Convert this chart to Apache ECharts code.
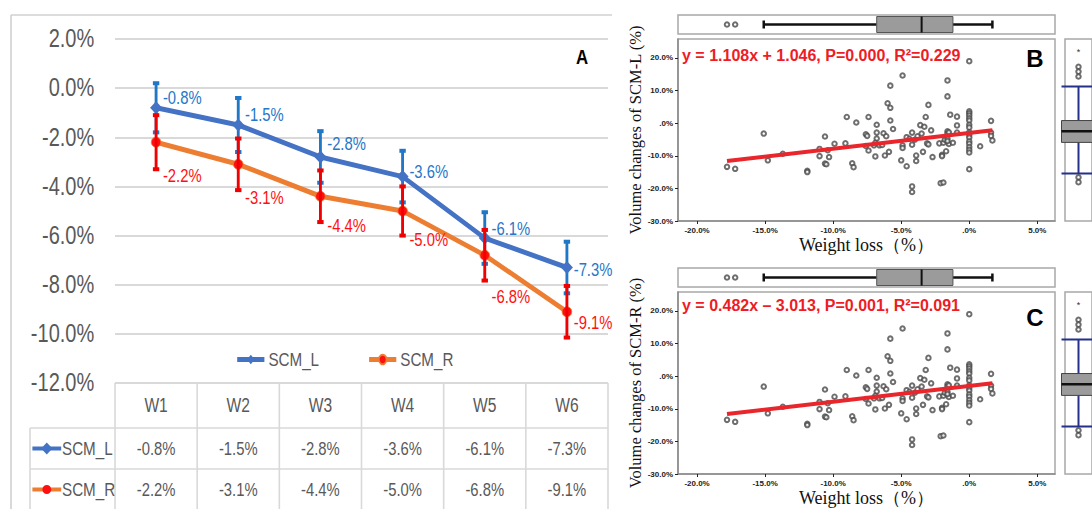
<!DOCTYPE html>
<html><head><meta charset="utf-8">
<script src="https://cdn.jsdelivr.net/npm/echarts@6/dist/echarts.min.js"></script>
<style>
html,body{margin:0;padding:0;background:#fff}
#wrap{position:relative;width:1092px;height:509px;overflow:hidden}
#a{position:absolute;left:0;top:0;width:800px;height:509px;transform:scaleX(0.8);transform-origin:0 0}
#bc{position:absolute;left:0;top:0;width:1092px;height:509px}
</style>
</head><body><div id="wrap"><div id="a"></div><div id="bc"></div></div>
<script>
// ---------------- DATA ----------------
const weeks = ['W1','W2','W3','W4','W5','W6'];
const scmL = [-0.8,-1.5,-2.8,-3.6,-6.1,-7.3];
const scmR = [-2.2,-3.1,-4.4,-5.0,-6.8,-9.1];
const errL = [1.0,1.1,1.05,1.05,1.05,1.05];
const errR = [1.1,1.05,1.05,1.0,1.03,1.05];
const seriesNames = ['SCM_L','SCM_R'];

const scatterPoints = [
 [-17.8,-13.4],[-17.2,-14.0],[-15.1,-3.2],[-14.8,-11.4],[-13.7,-9.4],
 [-11.9,-14.6],[-11.9,-15.0],[-11.0,-7.9],[-11.0,-10.1],[-10.6,-4.1],[-10.6,-12.4],[-10.5,-12.6],
 [-10.4,-8.3],[-10.3,-10.4],[-9.9,-6.3],[-9.1,-6.2],[-9.0,1.9],[-8.6,-12.3],[-8.5,-13.5],[-8.3,0.2],
 [-7.6,-3.4],[-7.5,-3.9],[-7.4,1.9],[-7.6,-7.0],[-7.4,-8.4],[-6.9,-10.2],[-6.8,-0.5],[-6.8,-2.9],
 [-6.8,-4.7],[-6.9,-6.0],[-7.0,-6.8],[-6.6,-6.8],[-6.3,-3.1],[-6.4,-6.7],[-6.1,-4.0],[-6.2,-9.9],
 [-6.0,6.1],[-5.8,4.7],[-5.8,11.5],[-5.8,0.8],[-5.9,-8.8],[-5.6,-1.8],
 [-5.0,-11.4],[-4.9,14.6],[-4.9,-6.8],[-4.9,-7.6],[-4.6,-4.3],[-4.6,-13.2],[-4.2,-2.9],[-4.2,-6.6],
 [-4.2,-19.4],[-4.2,-21.1],[-4.4,-4.8],[-4.0,-5.1],[-3.9,-9.9],[-3.9,-11.6],[-3.8,-4.0],[-3.6,-0.6],
 [-3.5,-3.2],[-3.4,-8.8],[-3.3,-1.1],[-3.2,1.9],[-3.1,-6.2],[-3.0,-6.5],[-3.0,5.6],[-2.8,-2.2],[-2.7,-10.4],
 [-2.2,-6.2],[-2.1,-18.4],[-1.9,-18.2],[-2.0,-9.7],[-2.0,-10.1],[-1.9,-6.0],[-1.8,-5.1],[-1.6,13.1],
 [-1.6,8.2],[-1.6,-2.5],[-1.6,-3.2],[-1.6,-4.8],[-1.7,-8.6],[-1.4,2.6],[-1.5,-6.4],[-1.6,-5.5],
 [-1.5,-2.8],[-1.2,-6.0],[-0.9,2.0],[-0.9,-0.7],[-0.9,-2.9],
 [0,19.0],[0,3.6],[0,3.0],[0,2.3],[0,1.5],[0,0.8],[0,-0.5],[0,-1.3],[0,-2.8],[0,-3.6],[0,-4.4],
 [0,-5.6],[0,-6.3],[0,-7.3],[0,-8.2],[0,-9.0],[0,-14.1],
 [0.8,-7.1],[1.6,0.7],[1.6,-2.9],[1.6,-3.9],[1.7,-5.3]
];
const fitLine = [[-17.8,-11.6],[1.7,-2.2]];
const weightBox = [-15.1,-6.8,-3.5,-1.2,1.7];
const weightOutliers = [-17.8,-17.2];
const volumeBox = [-15.4,-5.9,-2.5,0.8,11.2];
const volumeOutliers = [17.3,15.8,14.3,-16.6,-18.1];
const volumeExtremes = [21.9];
const yTicksA = [2,0,-2,-4,-6,-8,-10,-12];
const xTicksBC = [-20,-15,-10,-5,0,5];
const yTicksBC = [20,10,0,-10,-20,-30];
const equationB = 'y = 1.108x + 1.046, P=0.000, R²=0.229';
const equationC = 'y = 0.482x – 3.013, P=0.001, R²=0.091';
const yTitleB = 'Volume changes of SCM-L (%)';
const yTitleC = 'Volume changes of SCM-R (%)';
const xTitleBC = 'Weight loss（%）';

// ---------------- STYLE ----------------
// Panel A is drawn in a wider box that CSS squeezes horizontally by 0.8 (the reference panel is condensed).
const SX = 0.8;
const SANS = "'Liberation Sans',Arial,sans-serif";
const SERIF = "'Liberation Serif','DejaVu Serif',serif";
const GRAY = '#595959';
const BLUE = '#4472C4', BLUE_T = '#2477C9', ORANGE = '#ED7D31', RED = '#FF1010';
const offL = [-10,-10,-13,-5,-9,2];
const offR = [34,34,30,29,42,11];
const pct1 = v => v.toFixed(1) + '%';
const pctBC = v => (v === 0 ? '.0%' : v.toFixed(1) + '%');

function errRender(color){
  return function(params, api){
    const x = api.value(0);
    const p1 = api.coord([x, api.value(2)]), p2 = api.coord([x, api.value(1)]);
    return {type:'group', children:[
      {type:'line', shape:{x1:p1[0],y1:p1[1],x2:p2[0],y2:p2[1]}, style:{stroke:color, lineWidth:3.6}},
      {type:'rect', shape:{x:p1[0]-4,y:p1[1]-2,width:8,height:4}, style:{fill:color}},
      {type:'rect', shape:{x:p2[0]-4,y:p2[1]-2,width:8,height:4}, style:{fill:color}}
    ]};
  };
}
function hBoxRender(params, api){
  const c = [0,1,2,3,4].map(i => api.coord([api.value(i), 0]));
  const y = c[0][1], hh = 8, ch = 4;
  return {type:'group', children:[
    {type:'line', shape:{x1:c[0][0],y1:y,x2:c[1][0],y2:y}, style:{stroke:'#111',lineWidth:2.5}},
    {type:'line', shape:{x1:c[3][0],y1:y,x2:c[4][0],y2:y}, style:{stroke:'#111',lineWidth:2.5}},
    {type:'line', shape:{x1:c[0][0],y1:y-ch,x2:c[0][0],y2:y+ch}, style:{stroke:'#111',lineWidth:2.5}},
    {type:'line', shape:{x1:c[4][0],y1:y-ch,x2:c[4][0],y2:y+ch}, style:{stroke:'#111',lineWidth:2.5}},
    {type:'rect', shape:{x:c[1][0],y:y-hh,width:c[3][0]-c[1][0],height:2*hh}, style:{fill:'#9b9b9b',stroke:'#555',lineWidth:1}},
    {type:'line', shape:{x1:c[2][0],y1:y-hh,x2:c[2][0],y2:y+hh}, style:{stroke:'#111',lineWidth:2}}
  ]};
}
function vBoxRender(params, api){
  const c = [1,2,3,4,5].map(i => api.coord([0, api.value(i)]));
  const x = c[0][0], hw = 17;
  const navy = '#25308A';
  return {type:'group', children:[
    {type:'line', shape:{x1:x,y1:c[0][1],x2:x,y2:c[1][1]}, style:{stroke:navy,lineWidth:2}},
    {type:'line', shape:{x1:x,y1:c[3][1],x2:x,y2:c[4][1]}, style:{stroke:navy,lineWidth:2}},
    {type:'line', shape:{x1:x-hw,y1:c[0][1],x2:x+hw,y2:c[0][1]}, style:{stroke:navy,lineWidth:2}},
    {type:'line', shape:{x1:x-hw,y1:c[4][1],x2:x+hw,y2:c[4][1]}, style:{stroke:navy,lineWidth:2}},
    {type:'rect', shape:{x:x-hw,y:c[3][1],width:2*hw,height:c[1][1]-c[3][1]}, style:{fill:'#9b9b9b',stroke:'#444',lineWidth:1}},
    {type:'line', shape:{x1:x-hw,y1:c[2][1],x2:x+hw,y2:c[2][1]}, style:{stroke:'#111',lineWidth:2.5}}
  ]};
}
function starRender(params, api){
  const p = api.coord([0, api.value(1)]);
  return {type:'text', x:p[0], y:p[1], style:{text:'*', fill:'#333', fontSize:9, align:'center', verticalAlign:'middle', fontFamily:SANS}};
}

// ================= PANEL A =================
const optionA = {
  animation:false,
  backgroundColor:'#fff',
  grid:[{left:115/SX, top:39, width:493/SX, height:344}],
  legend:{data:seriesNames, left:289, top:345, itemWidth:34, itemHeight:12, itemGap:60,
    lineStyle:{width:5}, textStyle:{fontSize:19, color:GRAY, fontFamily:SANS}},
  xAxis:[{type:'category', data:weeks, boundaryGap:true, axisLine:{show:false}, axisTick:{show:false}, axisLabel:{show:false}}],
  yAxis:[{type:'value', min:yTicksA[yTicksA.length-1], max:yTicksA[0], interval:yTicksA[0]-yTicksA[1],
      axisLine:{show:false}, axisTick:{show:false},
      axisLabel:{formatter:pct1, fontSize:25, color:GRAY, margin:26, fontFamily:SANS},
      splitLine:{lineStyle:{color:'#d9d9d9', width:2}}}],
  series:[
    {type:'custom', name:'errL', z:2, renderItem:errRender('#1F77C8'),
      data:weeks.map((w,i)=>[i, scmL[i]-errL[i], scmL[i]+errL[i]])},
    {type:'line', name:'SCM_L', z:3, data:scmL.map((v,i)=>({value:v, label:{offset:[0,offL[i]]}})),
      symbol:'diamond', symbolSize:[15,13], itemStyle:{color:BLUE}, lineStyle:{color:BLUE, width:5},
      label:{show:true, position:'right', distance:1, color:BLUE_T, fontSize:18.5, fontFamily:SANS, formatter:p=>pct1(p.value)}},
    {type:'line', name:'SCM_R', z:3, data:scmR.map((v,i)=>({value:v, label:{offset:[0,offR[i]]}})),
      symbol:'circle', symbolSize:[12,10], itemStyle:{color:RED, borderColor:ORANGE, borderWidth:1}, lineStyle:{color:ORANGE, width:5},
      label:{show:true, position:'right', distance:2, color:RED, fontSize:18.5, fontFamily:SANS, formatter:p=>pct1(p.value)}},
    {type:'custom', name:'errR', z:4, renderItem:errRender('#F00000'),
      data:weeks.map((w,i)=>[i, scmR[i]-errR[i], scmR[i]+errR[i]])}
  ]
};
const chartA = echarts.init(document.getElementById('a'), null, {renderer:'svg'});
chartA.setOption(optionA);

// table under panel A, positioned from the category axis
const cx = weeks.map(w => chartA.convertToPixel({xAxisIndex:0}, w));
const bw = cx[1] - cx[0];
const tLeft = cx[0] - bw/2, tRight = cx[cx.length-1] + bw/2;
const tTop = chartA.convertToPixel({yAxisIndex:0}, yTicksA[yTicksA.length-1]);
const rowH = [45, 41, 41];
const rY = [tTop, tTop+rowH[0], tTop+rowH[0]+rowH[1], tTop+rowH[0]+rowH[1]+rowH[2]];
const keyLeft = 30/SX;
const LC = '#d9d9d9';
const g = [];
const ln = (x1,y1,x2,y2,c,w) => ({type:'line', silent:true, shape:{x1,y1,x2,y2}, style:{stroke:c||LC, lineWidth:w||1.5}});
const tx = (x,y,t,o) => ({type:'text', silent:true, x, y, style:Object.assign({text:t, fill:GRAY, fontSize:18.5, fontFamily:SANS, align:'center', verticalAlign:'middle'}, o||{})});
g.push(ln(11/SX, 15, 11/SX, 509, '#d0d0d0', 2));
g.push(ln(11/SX, 15, 612/SX, 15, '#d0d0d0', 1.5));
g.push(ln(tLeft, rY[0], tRight, rY[0]));
g.push(ln(keyLeft, rY[1], tRight, rY[1]));
g.push(ln(keyLeft, rY[2], tRight, rY[2]));
g.push(ln(keyLeft, rY[1], keyLeft, rY[3], LC, 2));
for (let i=0;i<=weeks.length;i++){ const x = tLeft + i*bw; g.push(ln(x, rY[0], x, rY[3], LC, 2)); }
weeks.forEach((w,i)=>{
  g.push(tx(cx[i], (rY[0]+rY[1])/2, w, {fontSize:19.5}));
  g.push(tx(cx[i], (rY[1]+rY[2])/2, pct1(scmL[i])));
  g.push(tx(cx[i], (rY[2]+rY[3])/2, pct1(scmR[i])));
});
const kyL = (rY[1]+rY[2])/2, kyR = (rY[2]+rY[3])/2;
g.push(ln(keyLeft+3, kyL, keyLeft+39, kyL, BLUE, 4));
g.push({type:'polygon', silent:true, shape:{points:[[keyLeft+21,kyL-6],[keyLeft+28,kyL],[keyLeft+21,kyL+6],[keyLeft+14,kyL]]}, style:{fill:BLUE}});
g.push(tx(keyLeft+40, kyL, seriesNames[0], {align:'left', fontSize:19}));
g.push(ln(keyLeft+3, kyR, keyLeft+39, kyR, ORANGE, 4));
g.push({type:'ellipse', silent:true, shape:{cx:keyLeft+21, cy:kyR, rx:5.5, ry:4.5}, style:{fill:RED}});
g.push(tx(keyLeft+40, kyR, seriesNames[1], {align:'left', fontSize:19}));
g.push({type:'text', silent:true, x:582/SX, y:57, style:{text:'A', fill:'#000', fontSize:21, fontWeight:'bold', fontFamily:SANS, align:'center', verticalAlign:'middle'}});
chartA.setOption({graphic:{elements:g}});

// ================= PANELS B and C =================
const gridBorder = {show:true, borderColor:'#a8a8a8', borderWidth:1.5, backgroundColor:'transparent'};
const ring = {color:'#4a4a4a', borderWidth:0.8};
function scatterX(grid){
  return {type:'value', gridIndex:grid, min:-21.4, max:6.3, splitLine:{show:false},
    axisLine:{show:true, onZero:false, lineStyle:{color:'#8a8a8a', width:1.5}},
    axisTick:{show:true, length:3, customValues:xTicksBC, lineStyle:{color:'#222'}},
    axisLabel:{customValues:xTicksBC, formatter:pctBC, fontSize:8, fontWeight:'bold', color:'#222', margin:5, fontFamily:SANS},
    name:xTitleBC, nameLocation:'middle', nameGap:15, nameTextStyle:{fontFamily:SERIF, fontSize:18, color:'#111'}};
}
function scatterY(grid, title){
  return {type:'value', gridIndex:grid, min:-30, max:25.8, splitLine:{show:false},
    axisLine:{show:true, onZero:false, lineStyle:{color:'#8a8a8a', width:1.5}},
    axisTick:{show:true, length:3, customValues:yTicksBC, lineStyle:{color:'#222'}},
    axisLabel:{customValues:yTicksBC, formatter:pctBC, fontSize:8, fontWeight:'bold', color:'#222', margin:5, fontFamily:SANS},
    name:title, nameLocation:'middle', nameGap:23, nameRotate:90, nameTextStyle:{fontFamily:SERIF, fontSize:16.5, color:'#111'}};
}
function hiddenVal(grid, min, max){ return {type:'value', gridIndex:grid, min:min, max:max, show:false}; }
function hiddenCat(grid){ return {type:'category', gridIndex:grid, data:['a'], show:false}; }
function panelSeries(base){
  const s = base, t = base+1, r = base+2;
  return [
    {type:'scatter', xAxisIndex:s, yAxisIndex:s, data:scatterPoints, symbol:'emptyCircle', symbolSize:4.5, itemStyle:ring},
    {type:'line', xAxisIndex:s, yAxisIndex:s, data:fitLine, symbol:'none', lineStyle:{color:'#E8262B', width:4}, z:5},
    {type:'custom', xAxisIndex:t, yAxisIndex:t, renderItem:hBoxRender, data:[weightBox.concat([0])]},
    {type:'scatter', xAxisIndex:t, yAxisIndex:t, data:weightOutliers.map(v=>[v,0]), symbol:'emptyCircle', symbolSize:4.5, itemStyle:ring},
    {type:'custom', xAxisIndex:r, yAxisIndex:r, renderItem:vBoxRender, data:[[0].concat(volumeBox)]},
    {type:'scatter', xAxisIndex:r, yAxisIndex:r, data:volumeOutliers.map(v=>[0,v]), symbol:'emptyCircle', symbolSize:4.5, itemStyle:ring},
    {type:'custom', xAxisIndex:r, yAxisIndex:r, renderItem:starRender, data:volumeExtremes.map(v=>[0,v])}
  ];
}
const optionBC = {
  animation:false,
  grid:[
    Object.assign({left:678, top:39, width:377, height:182}, gridBorder),
    Object.assign({left:678, top:15, width:377, height:19}, gridBorder),
    Object.assign({left:1065, top:39, width:40, height:182}, gridBorder),
    Object.assign({left:678, top:292, width:377, height:182}, gridBorder),
    Object.assign({left:678, top:268, width:377, height:19}, gridBorder),
    Object.assign({left:1065, top:292, width:40, height:182}, gridBorder)
  ],
  xAxis:[scatterX(0), hiddenVal(1,-21.4,6.3), hiddenCat(2), scatterX(3), hiddenVal(4,-21.4,6.3), hiddenCat(5)],
  yAxis:[scatterY(0, yTitleB), hiddenCat(1), hiddenVal(2,-30,25.8), scatterY(3, yTitleC), hiddenCat(4), hiddenVal(5,-30,25.8)],
  series: panelSeries(0).concat(panelSeries(3)),
  graphic:{elements:[
    {type:'text', silent:true, x:1035, y:58, style:{text:'B', fill:'#000', fontSize:24, fontWeight:'bold', fontFamily:SANS, align:'center', verticalAlign:'middle'}},
    {type:'text', silent:true, x:1035, y:317, style:{text:'C', fill:'#000', fontSize:24, fontWeight:'bold', fontFamily:SANS, align:'center', verticalAlign:'middle'}},
    {type:'text', silent:true, x:682, y:55, style:{text:equationB, fill:'#EE1C25', fontSize:16, fontWeight:'bold', fontFamily:SANS, align:'left', verticalAlign:'middle'}},
    {type:'text', silent:true, x:682, y:305, style:{text:equationC, fill:'#EE1C25', fontSize:16, fontWeight:'bold', fontFamily:SANS, align:'left', verticalAlign:'middle'}}
  ]}
};
const chartBC = echarts.init(document.getElementById('bc'), null, {renderer:'svg'});
chartBC.setOption(optionBC);
</script>
</body></html>
